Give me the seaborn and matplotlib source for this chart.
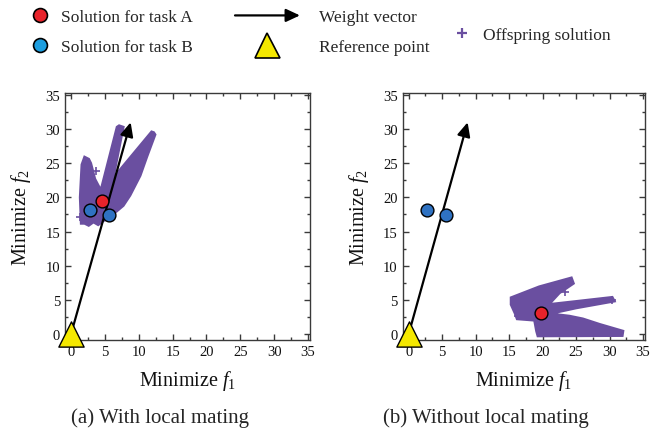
import matplotlib
matplotlib.use("Agg")
import matplotlib.pyplot as plt
import seaborn as sns
from matplotlib.lines import Line2D
from matplotlib.patches import FancyArrowPatch
from matplotlib.legend_handler import HandlerBase
from matplotlib.ticker import MultipleLocator

# ---------------- data ----------------
ref_point = (0.0, 0.0)
weight_tip = (8.8, 31.0)

task_b_x = [2.8, 5.6]
task_b_y = [18.1, 17.4]

task_a_with_x = [4.6]
task_a_with_y = [19.5]
task_a_without_x = [19.8]
task_a_without_y = [3.1]

# offspring cloud outline, (a) with local mating
a_cloud_x = [1.5, 1.35, 1.6, 2.0, 2.6, 2.9, 3.5, 4.4, 6.8, 7.1, 7.7, 6.2, 11.9,
             12.2, 12.4, 11.2, 10.2, 8.7, 7.7, 6.5, 5.5, 4.8, 4.0, 3.3, 2.6, 2.0]
a_cloud_y = [16.2, 20.0, 24.8, 25.9, 25.6, 25.0, 22.7, 21.0, 30.3, 30.5, 30.3, 22.8,
             29.6, 29.5, 29.2, 26.0, 23.2, 20.3, 18.8, 17.8, 17.0, 16.6, 16.0, 16.4,
             15.9, 16.2]
a_stray_x = [3.7, 1.3]
a_stray_y = [23.9, 17.2]

# offspring cloud outline, (b) without local mating
b_cloud_x = [15.3, 19.5, 24.3, 24.6, 22.5, 20.9, 25.0, 30.4, 30.7, 25.0, 21.0,
             24.0, 26.0, 28.5, 32.0, 31.9, 19.3, 19.1, 18.8, 16.2, 15.9, 15.3]
b_cloud_y = [5.3, 6.9, 8.2, 7.4, 6.0, 4.3, 4.75, 5.35, 4.8, 3.8, 2.95,
             2.6, 2.2, 1.4, 0.4, -0.25, -0.3, 0.4, 2.0, 2.2, 3.0, 4.3]
b_stray_x = [23.3, 16.4, 30.3]
b_stray_y = [6.1, 2.6, 4.9]

captions = ["(a) With local mating", "(b) Without local mating"]
legend_labels = ["Solution for task A", "Solution for task B", "Weight vector",
                 "Reference point", "Offspring solution"]
ticks = [0, 5, 10, 15, 20, 25, 30, 35]

# ---------------- style ----------------
RED = "#e8232b"
BLUE = "#2f72c2"
BLUE_LEG = "#1c9ee0"
PURPLE = "#6a4fa0"
YELLOW = "#f4e800"
SPINE = "#3a3a3a"

sns.set_theme(style="ticks")
plt.rcParams["font.family"] = ["Liberation Serif", "DejaVu Serif"]
plt.rcParams["mathtext.fontset"] = "custom"
plt.rcParams["mathtext.rm"] = "Liberation Serif"
plt.rcParams["mathtext.it"] = "Liberation Serif:italic"

W, H = 652, 439
fig = plt.figure(figsize=(W / 100, H / 100), dpi=100)
fig.patch.set_facecolor("white")


def rect(l, r, t, b):
    return [l / W, 1 - b / H, (r - l) / W, (b - t) / H]


ax1 = fig.add_axes(rect(65, 310, 94, 341))
ax2 = fig.add_axes(rect(402.7, 645, 94, 341))


def style_axes(ax):
    ax.set_xlim(-0.9, 35.3)
    ax.set_ylim(-0.9, 35.3)
    ax.set_xticks(ticks)
    ax.set_yticks(ticks)
    ax.xaxis.set_minor_locator(MultipleLocator(2.5))
    ax.yaxis.set_minor_locator(MultipleLocator(2.5))
    ax.tick_params(which="both", direction="in", top=True, right=True,
                   color=SPINE, width=1.0, labelsize=10.5, labelcolor="#111111")
    ax.tick_params(which="major", length=4.5, pad=3.5)
    ax.tick_params(which="minor", length=2.5)
    for s in ax.spines.values():
        s.set_color(SPINE)
        s.set_linewidth(1.0)
    ax.set_facecolor("white")
    ax.set_xlabel("Minimize $f_1$", fontsize=14.5, labelpad=7, color="#111111")
    ax.set_ylabel("Minimize $f_2$", fontsize=14.5, labelpad=9, color="#111111")


def draw_cloud(ax, px, py, sx, sy):
    ax.fill(px, py, facecolor=PURPLE, edgecolor=PURPLE, lw=2.0, zorder=1,
            joinstyle="miter")
    sns.scatterplot(x=sx, y=sy, ax=ax, marker="+", color=PURPLE, s=40,
                    linewidth=1.2, zorder=1, legend=False)


def draw_common(ax, ax_x, ax_y):
    ax.annotate("", xy=weight_tip, xytext=ref_point, zorder=3,
                arrowprops=dict(arrowstyle="-|>,head_length=0.6,head_width=0.28",
                                mutation_scale=14, lw=1.6, color="black",
                                shrinkA=0, shrinkB=0))
    sns.scatterplot(x=task_b_x, y=task_b_y, ax=ax, color=BLUE, s=85,
                    edgecolor="black", linewidth=1.0, zorder=4, legend=False)
    sns.scatterplot(x=ax_x, y=ax_y, ax=ax, color=RED, s=85,
                    edgecolor="black", linewidth=1.0, zorder=4, legend=False)
    sns.scatterplot(x=[ref_point[0]], y=[ref_point[1]], ax=ax, marker="^",
                    color=YELLOW, s=330, edgecolor="black", linewidth=1.0,
                    zorder=5, legend=False, clip_on=False)


draw_cloud(ax1, a_cloud_x, a_cloud_y, a_stray_x, a_stray_y)
draw_common(ax1, task_a_with_x, task_a_with_y)
draw_cloud(ax2, b_cloud_x, b_cloud_y, b_stray_x, b_stray_y)
draw_common(ax2, task_a_without_x, task_a_without_y)

for ax in (ax1, ax2):
    style_axes(ax)


# ---------------- legends ----------------
class ArrowHandle:
    pass


class HandlerArrow(HandlerBase):
    def create_artists(self, legend, orig_handle, xdescent, ydescent,
                       width, height, fontsize, trans):
        y = height / 2 - ydescent
        a = FancyArrowPatch((-xdescent, y), (width - xdescent, y),
                            arrowstyle="-|>,head_length=0.6,head_width=0.28",
                            mutation_scale=14, lw=1.6, color="black",
                            shrinkA=0, shrinkB=0)
        a.set_transform(trans)
        return [a]


FS = 12.5
h_red = Line2D([], [], ls="", marker="o", markersize=10, markerfacecolor=RED,
               markeredgecolor="black", markeredgewidth=1.2)
h_blue = Line2D([], [], ls="", marker="o", markersize=10, markerfacecolor=BLUE_LEG,
                markeredgecolor="black", markeredgewidth=1.2)
h_arrow = ArrowHandle()
h_tri = Line2D([], [], ls="", marker="^", markersize=18, markerfacecolor=YELLOW,
               markeredgecolor="black", markeredgewidth=1.2)
h_plus = Line2D([], [], ls="", marker="+", markersize=7, markeredgewidth=1.6,
                color=PURPLE)

common = dict(loc="center left", frameon=False, borderpad=0, borderaxespad=0,
              fontsize=FS, labelspacing=0.75)
fig.legend([h_red, h_blue], legend_labels[0:2],
           bbox_to_anchor=(31 / W, 1 - 33 / H),
           handlelength=1.0, handletextpad=0.75, **common)
fig.legend([h_arrow, h_tri], legend_labels[2:4],
           bbox_to_anchor=(235 / W, 1 - 33 / H),
           handlelength=3.74, handletextpad=1.1,
           handler_map={ArrowHandle: HandlerArrow()}, **common)
fig.legend([h_plus], legend_labels[4:5],
           bbox_to_anchor=(453 / W, 1 - 36 / H),
           handlelength=1.0, handletextpad=0.72, **common)

# ---------------- captions ----------------
fig.text(160 / W, 1 - 418 / H, captions[0], ha="center", va="center", fontsize=15)
fig.text(486 / W, 1 - 418 / H, captions[1], ha="center", va="center", fontsize=15)

fig.savefig("out.png", dpi=100, facecolor="white")
